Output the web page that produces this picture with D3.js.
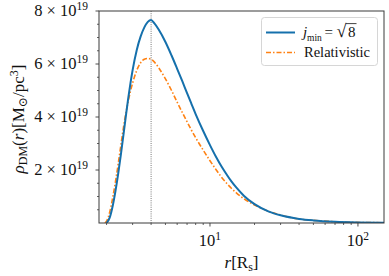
<!DOCTYPE html>
<html><head><meta charset="utf-8">
<script src="https://cdn.jsdelivr.net/npm/d3@7"></script>
<style>
html,body{margin:0;padding:0;background:#fff;}
svg{display:block;}
text{fill:#111;}
</style></head>
<body>
<svg id="c" width="389" height="276" font-family="'Liberation Serif','Times New Roman','DejaVu Serif',serif"></svg>
<script>
// ---- data (r in R_s, rho in units of 1e19 M_sun/pc^3) ----
const blueR   = [2.0,2.1,2.2,2.3,2.4,2.5,2.6,2.7,2.8,2.9,3.0,3.2,3.4,3.6,3.8,4.0,4.2,4.5,5.0,5.5,6.0,6.5,7.0,7.5,8.0,9.0,10,11,12,13,14,15,17,20,25,30,40,50,70,100,150];
const blueRho = [0,0.20,0.64,1.22,1.88,2.59,3.32,4.03,4.69,5.27,5.77,6.53,7.04,7.38,7.59,7.66,7.54,7.30,6.83,6.32,5.82,5.35,4.90,4.49,4.11,3.47,2.94,2.49,2.12,1.82,1.56,1.35,1.02,0.71,0.43,0.29,0.155,0.098,0.049,0.023,0.011];
const relR    = [1.95,2.0,2.1,2.2,2.3,2.4,2.5,2.6,2.7,2.8,2.9,3.0,3.2,3.4,3.6,3.8,4.0,4.2,4.5,5.0,5.5,6.0,6.5,7.0,7.5,8.0,9.0,10,11,12,13,14,15,17,20,25,30,40,50,70,100,150];
const relRho  = [0,0.07,0.41,0.95,1.58,2.25,2.94,3.59,4.14,4.59,4.97,5.28,5.76,6.05,6.18,6.21,6.18,6.08,5.86,5.44,5.00,4.56,4.17,3.82,3.50,3.22,2.75,2.35,2.01,1.72,1.49,1.30,1.15,0.91,0.68,0.44,0.30,0.15,0.098,0.049,0.023,0.011];
const yTickVals = [2,4,6,8];          // ×10^19
const yTickLabels = ["2","4","6","8"];
const xTickVals = [10,100];
const xTickExp = ["1","2"];
const vlineR = 4.0;
const seriesNames = ["j_min = √8","Relativistic"];

const svg = d3.select("#c");
const L=99, R=384, T=11, B=223;
const x = d3.scaleLog().domain([1.778,150]).range([L,R]);
const y = d3.scaleLinear().domain([0,8]).range([B,T]);

const blue="#1570ac", orange="#ff8214", axisCol="#3a3a3a";

svg.append("clipPath").attr("id","clip").append("rect").attr("x",L).attr("y",T-3).attr("width",R-L).attr("height",B-T+3);

// vertical dotted line
svg.append("line").attr("x1",x(vlineR)).attr("x2",x(vlineR)).attr("y1",T).attr("y2",B)
  .attr("stroke","#555").attr("stroke-width",0.8).attr("stroke-dasharray","1,1.2");

const line = d3.line().x(d=>x(d[0])).y(d=>y(d[1])).curve(d3.curveMonotoneX);
const g = svg.append("g").attr("clip-path","url(#clip)");
g.append("path").datum(relR.map((r,i)=>[r,relRho[i]])).attr("d",line)
  .attr("fill","none").attr("stroke",orange).attr("stroke-width",1.6).attr("stroke-dasharray","5,2,1.5,2");
g.append("path").datum(blueR.map((r,i)=>[r,blueRho[i]])).attr("d",line)
  .attr("fill","none").attr("stroke",blue).attr("stroke-width",2);

// frame
svg.append("rect").attr("x",L).attr("y",T).attr("width",R-L).attr("height",B-T)
  .attr("fill","none").attr("stroke",axisCol).attr("stroke-width",1);

// y ticks
const yMinor = d3.range(0.5,8.01,0.5).filter(v=>!yTickVals.includes(v));
svg.selectAll(".ymin").data(yMinor).enter().append("line")
  .attr("x1",L-2).attr("x2",L).attr("y1",d=>y(d)).attr("y2",d=>y(d)).attr("stroke",axisCol).attr("stroke-width",0.8);
svg.selectAll(".ymaj").data(yTickVals).enter().append("line")
  .attr("x1",L-3.5).attr("x2",L).attr("y1",d=>y(d)).attr("y2",d=>y(d)).attr("stroke",axisCol).attr("stroke-width",0.9);
yTickVals.forEach((v,i)=>{
  const t = svg.append("text").attr("x",L-11).attr("y",y(v)+5).attr("text-anchor","end").style("font-size","16.5px");
  t.append("tspan").text(yTickLabels[i]+" × 10");
  t.append("tspan").attr("dy",-6.5).style("font-size","11.5px").text("19");
});

// x ticks
const xMinor = [];
[1,10].forEach(dec=>{ for(let k=2;k<=9;k++){ const v=k*dec; if(v>=1.778 && v<=150 && v!==10 && v!==100) xMinor.push(v);} });
svg.selectAll(".xmin").data(xMinor).enter().append("line")
  .attr("x1",d=>x(d)).attr("x2",d=>x(d)).attr("y1",B).attr("y2",B+2).attr("stroke",axisCol).attr("stroke-width",0.8);
svg.selectAll(".xmaj").data(xTickVals).enter().append("line")
  .attr("x1",d=>x(d)).attr("x2",d=>x(d)).attr("y1",B).attr("y2",B+3.5).attr("stroke",axisCol).attr("stroke-width",0.9);
xTickVals.forEach((v,i)=>{
  const t = svg.append("text").attr("x",x(v)).attr("y",246).attr("text-anchor","middle").style("font-size","16.5px");
  t.append("tspan").text("10");
  t.append("tspan").attr("dy",-6.5).style("font-size","11.5px").text(xTickExp[i]);
});

// x label
{
  const t = svg.append("text").attr("x",(L+R)/2).attr("y",268).attr("text-anchor","middle").style("font-size","17px");
  t.append("tspan").style("font-style","italic").text("r");
  t.append("tspan").text("[R");
  t.append("tspan").attr("dy",3).style("font-size","12px").text("s");
  t.append("tspan").attr("dy",-3).text("]");
}
// y label
{
  const t = svg.append("text").attr("transform",`translate(24,${(T+B)/2+2}) rotate(-90)`).attr("text-anchor","middle").style("font-size","17px");
  t.append("tspan").style("font-style","italic").text("ρ");
  t.append("tspan").attr("dy",3).style("font-size","12px").text("DM");
  t.append("tspan").attr("dy",-3).text("(");
  t.append("tspan").style("font-style","italic").text("r");
  t.append("tspan").text(")[M");
  t.append("tspan").attr("dy",3).style("font-size","12px").text("⊙");
  t.append("tspan").attr("dy",-3).text("/pc");
  t.append("tspan").attr("dy",-6).style("font-size","12px").text("3");
  t.append("tspan").attr("dy",6).text("]");
}

// legend
svg.append("rect").attr("x",261.5).attr("y",17.5).attr("width",116).attr("height",48).attr("rx",3)
  .attr("fill","#fff").attr("fill-opacity",0.85).attr("stroke","#d6d6d6").attr("stroke-width",1);
svg.append("line").attr("x1",266).attr("x2",295).attr("y1",32.5).attr("y2",32.5).attr("stroke",blue).attr("stroke-width",2);
svg.append("line").attr("x1",266).attr("x2",295).attr("y1",52.5).attr("y2",52.5).attr("stroke",orange).attr("stroke-width",1.6).attr("stroke-dasharray","5,2,1.5,2");
{
  const t = svg.append("text").attr("y",37).style("font-size","15px");
  t.append("tspan").attr("x",303).style("font-style","italic").text("j");
  t.append("tspan").attr("x",307).attr("dy",3.5).style("font-size","9.5px").text("min");
  t.append("tspan").attr("x",324.5).attr("dy",-3.5).text("=");
  const rad = t.append("tspan").attr("x",336.5).style("font-size","18px").text("√");
  t.append("tspan").attr("x",348).text("8");
  const radW = rad.node().getComputedTextLength();
  svg.append("line").attr("x1",336.5+radW-0.6).attr("x2",356.5).attr("y1",23.6).attr("y2",23.6)
    .attr("stroke","#111").attr("stroke-width",0.8);
}
svg.append("text").attr("x",304).attr("y",57).style("font-size","14.5px").text(seriesNames[1]);
</script>
</body></html>
